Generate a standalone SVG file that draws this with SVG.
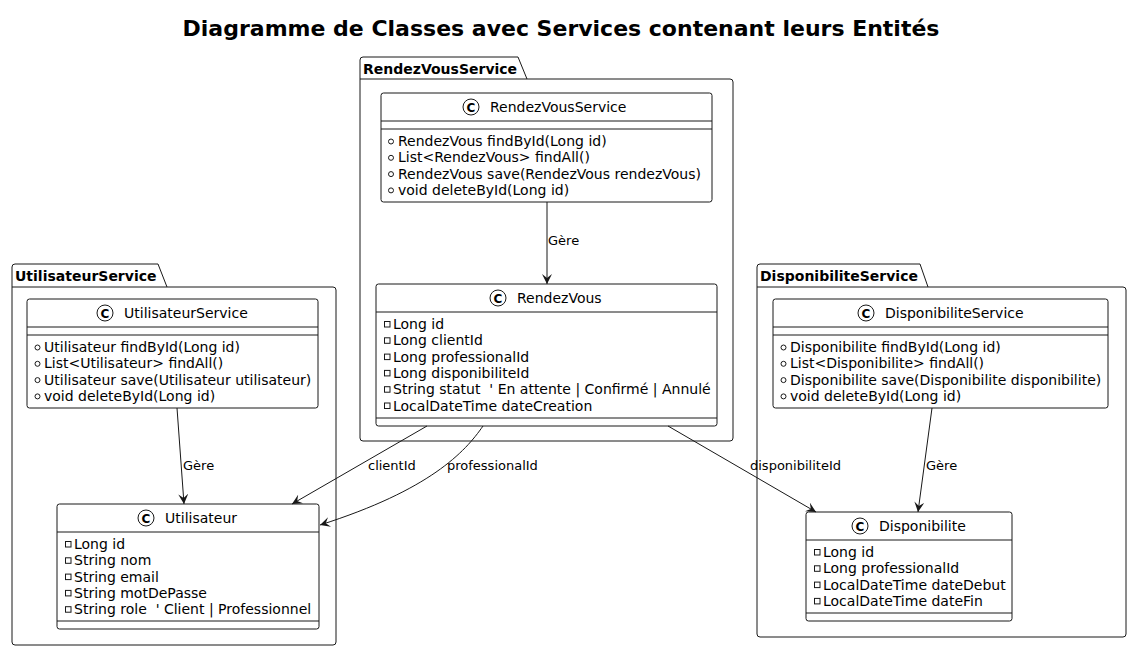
<svg xmlns="http://www.w3.org/2000/svg" width="1131" height="651" viewBox="0 0 1131 651">
<style>
text{font-family:"DejaVu Sans","Liberation Sans",sans-serif;fill:#000;white-space:pre}
.title{font-size:22px;font-weight:bold}
.pkg{fill:#fff;stroke:#181818;stroke-width:1}
.pkl{font-size:14px;font-weight:bold}
.box{fill:#fff;stroke:#181818;stroke-width:1}
.sep{stroke:#181818;stroke-width:1}
.cn{font-size:14px}
.ci{fill:#fff;stroke:#181818;stroke-width:1}
.cl{font-size:12px;font-weight:bold;text-anchor:middle}
.m{font-size:14px}
.pub{fill:none;stroke:#181818;stroke-width:1}
.prv{fill:none;stroke:#181818;stroke-width:1}
.lbl{font-size:13px}
.edge{fill:none;stroke:#181818;stroke-width:1}
</style>
<defs>
<marker id="ah" viewBox="0 0 10 10" refX="10" refY="5" markerWidth="10" markerHeight="10" markerUnits="userSpaceOnUse" orient="auto">
<path d="M0,0 L10,5 L0,10 L4,5 Z" fill="#181818"/>
</marker>
</defs>
<rect width="1131" height="651" fill="#fff"/>
<text class="title" x="561" y="36" text-anchor="middle">Diagramme de Classes avec Services contenant leurs Entités</text>

<g id="pkg-RendezVousService">
<path class="pkg" d="M360,60 Q360,57 363,57 L518,57 L527,79 L730,79 Q733,79 733,82 L733,438 Q733,441 730,441 L363,441 Q360,441 360,438 Z"/>
<line class="sep" x1="360" y1="79" x2="527" y2="79"/>
<text class="pkl" x="363" y="74">RendezVousService</text>
</g>
<g id="pkg-UtilisateurService">
<path class="pkg" d="M12,267 Q12,264 15,264 L158,264 L167,287 L333,287 Q336,287 336,290 L336,642 Q336,645 333,645 L15,645 Q12,645 12,642 Z"/>
<line class="sep" x1="12" y1="287" x2="167" y2="287"/>
<text class="pkl" x="15" y="281">UtilisateurService</text>
</g>
<g id="pkg-DisponibiliteService">
<path class="pkg" d="M757,267 Q757,264 760,264 L920,264 L928,287 L1123,287 Q1126,287 1126,290 L1126,634 Q1126,637 1123,637 L760,637 Q757,637 757,634 Z"/>
<line class="sep" x1="757" y1="287" x2="928" y2="287"/>
<text class="pkl" x="760" y="281">DisponibiliteService</text>
</g>

<g id="RendezVousService">
<rect class="box" x="381" y="93" width="331" height="109" rx="2.5"/>
<circle class="ci" cx="471" cy="107" r="8"/><text class="cl" x="471" y="111.5">C</text>
<text class="cn" x="490" y="112">RendezVousService</text>
<line class="sep" x1="381" y1="121" x2="712" y2="121"/>
<line class="sep" x1="381" y1="129" x2="712" y2="129"/>
<circle class="pub" cx="391" cy="141.5" r="2.5"/><text class="m" x="398" y="146">RendezVous findById(Long id)</text>
<circle class="pub" cx="391" cy="157.8" r="2.5"/><text class="m" x="398" y="162.3">List&lt;RendezVous&gt; findAll()</text>
<circle class="pub" cx="391" cy="174.1" r="2.5"/><text class="m" x="398" y="178.6">RendezVous save(RendezVous rendezVous)</text>
<circle class="pub" cx="391" cy="190.4" r="2.5"/><text class="m" x="398" y="194.9">void deleteById(Long id)</text>
</g>

<g id="RendezVous">
<rect class="box" x="376" y="284" width="341" height="142" rx="2.5"/>
<circle class="ci" cx="498" cy="298" r="8"/><text class="cl" x="498" y="302.5">C</text>
<text class="cn" x="517" y="303">RendezVous</text>
<line class="sep" x1="376" y1="312" x2="717" y2="312"/>
<rect class="prv" x="384.5" y="321.5" width="5.5" height="5.5"/><text class="m" x="393" y="329">Long id</text>
<rect class="prv" x="384.5" y="337.8" width="5.5" height="5.5"/><text class="m" x="393" y="345.3">Long clientId</text>
<rect class="prv" x="384.5" y="354.1" width="5.5" height="5.5"/><text class="m" x="393" y="361.6">Long professionalId</text>
<rect class="prv" x="384.5" y="370.4" width="5.5" height="5.5"/><text class="m" x="393" y="377.9">Long disponibiliteId</text>
<rect class="prv" x="384.5" y="386.7" width="5.5" height="5.5"/><text class="m" x="393" y="394.2">String statut  ' En attente | Confirmé | Annulé</text>
<rect class="prv" x="384.5" y="403" width="5.5" height="5.5"/><text class="m" x="393" y="410.5">LocalDateTime dateCreation</text>
<line class="sep" x1="376" y1="418" x2="717" y2="418"/>
</g>

<g id="UtilisateurService">
<rect class="box" x="27" y="299" width="291" height="109" rx="2.5"/>
<circle class="ci" cx="105" cy="313" r="8"/><text class="cl" x="105" y="317.5">C</text>
<text class="cn" x="124" y="318">UtilisateurService</text>
<line class="sep" x1="27" y1="327" x2="318" y2="327"/>
<line class="sep" x1="27" y1="335" x2="318" y2="335"/>
<circle class="pub" cx="37.5" cy="347.5" r="2.5"/><text class="m" x="44" y="352">Utilisateur findById(Long id)</text>
<circle class="pub" cx="37.5" cy="363.8" r="2.5"/><text class="m" x="44" y="368.3">List&lt;Utilisateur&gt; findAll()</text>
<circle class="pub" cx="37.5" cy="380.1" r="2.5"/><text class="m" x="44" y="384.6">Utilisateur save(Utilisateur utilisateur)</text>
<circle class="pub" cx="37.5" cy="396.4" r="2.5"/><text class="m" x="44" y="400.9">void deleteById(Long id)</text>
</g>

<g id="Utilisateur">
<rect class="box" x="57" y="504" width="262" height="125" rx="2.5"/>
<circle class="ci" cx="146" cy="518" r="8"/><text class="cl" x="146" y="522.5">C</text>
<text class="cn" x="165" y="523">Utilisateur</text>
<line class="sep" x1="57" y1="532" x2="319" y2="532"/>
<rect class="prv" x="65.5" y="541.5" width="5.5" height="5.5"/><text class="m" x="74" y="549">Long id</text>
<rect class="prv" x="65.5" y="557.8" width="5.5" height="5.5"/><text class="m" x="74" y="565.3">String nom</text>
<rect class="prv" x="65.5" y="574.1" width="5.5" height="5.5"/><text class="m" x="74" y="581.6">String email</text>
<rect class="prv" x="65.5" y="590.4" width="5.5" height="5.5"/><text class="m" x="74" y="597.9">String motDePasse</text>
<rect class="prv" x="65.5" y="606.7" width="5.5" height="5.5"/><text class="m" x="74" y="614.2">String role  ' Client | Professionnel</text>
<line class="sep" x1="57" y1="621" x2="319" y2="621"/>
</g>

<g id="DisponibiliteService">
<rect class="box" x="773" y="299" width="335" height="109" rx="2.5"/>
<circle class="ci" cx="866" cy="313" r="8"/><text class="cl" x="866" y="317.5">C</text>
<text class="cn" x="885" y="318">DisponibiliteService</text>
<line class="sep" x1="773" y1="327" x2="1108" y2="327"/>
<line class="sep" x1="773" y1="335" x2="1108" y2="335"/>
<circle class="pub" cx="783.5" cy="347.5" r="2.5"/><text class="m" x="790" y="352">Disponibilite findById(Long id)</text>
<circle class="pub" cx="783.5" cy="363.8" r="2.5"/><text class="m" x="790" y="368.3">List&lt;Disponibilite&gt; findAll()</text>
<circle class="pub" cx="783.5" cy="380.1" r="2.5"/><text class="m" x="790" y="384.6">Disponibilite save(Disponibilite disponibilite)</text>
<circle class="pub" cx="783.5" cy="396.4" r="2.5"/><text class="m" x="790" y="400.9">void deleteById(Long id)</text>
</g>

<g id="Disponibilite">
<rect class="box" x="806" y="512" width="206" height="109" rx="2.5"/>
<circle class="ci" cx="860" cy="526" r="8"/><text class="cl" x="860" y="530.5">C</text>
<text class="cn" x="879" y="531">Disponibilite</text>
<line class="sep" x1="806" y1="540" x2="1012" y2="540"/>
<rect class="prv" x="814.5" y="549.5" width="5.5" height="5.5"/><text class="m" x="823" y="557">Long id</text>
<rect class="prv" x="814.5" y="565.8" width="5.5" height="5.5"/><text class="m" x="823" y="573.3">Long professionalId</text>
<rect class="prv" x="814.5" y="582.1" width="5.5" height="5.5"/><text class="m" x="823" y="589.6">LocalDateTime dateDebut</text>
<rect class="prv" x="814.5" y="598.4" width="5.5" height="5.5"/><text class="m" x="823" y="605.9">LocalDateTime dateFin</text>
<line class="sep" x1="806" y1="613" x2="1012" y2="613"/>
</g>

<g id="connectors">
<path class="edge" d="M547,202 L547,284" marker-end="url(#ah)"/>
<text class="lbl" x="548" y="245">Gère</text>
<path class="edge" d="M177,408 L184,504" marker-end="url(#ah)"/>
<text class="lbl" x="183" y="470">Gère</text>
<path class="edge" d="M932,408 L918,512" marker-end="url(#ah)"/>
<text class="lbl" x="926" y="470">Gère</text>
<path class="edge" d="M427,426 L292,504" marker-end="url(#ah)"/>
<text class="lbl" x="368" y="470">clientId</text>
<path class="edge" d="M483,426 C465,452 430,490 320,525" marker-end="url(#ah)"/>
<text class="lbl" x="447" y="470">professionalId</text>
<path class="edge" d="M668,426 L816,512" marker-end="url(#ah)"/>
<text class="lbl" x="750" y="470">disponibiliteId</text>
</g>
</svg>
